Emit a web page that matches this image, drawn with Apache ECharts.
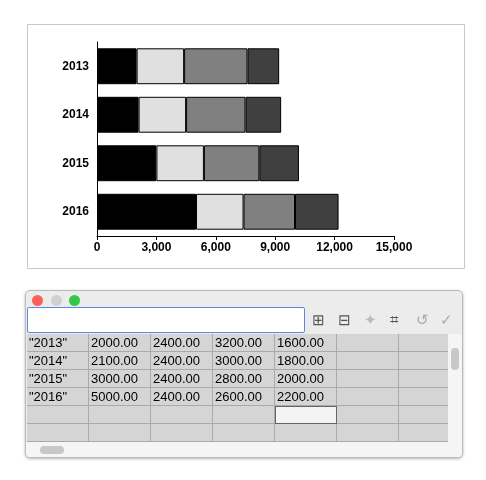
<!DOCTYPE html>
<html><head><meta charset="utf-8">
<script src="https://cdn.jsdelivr.net/npm/echarts@6/dist/echarts.min.js"></script>
<style>
body{margin:0;width:486px;height:480px;background:#fff;font-family:"Liberation Sans",Arial,sans-serif;position:relative;overflow:hidden}
#c{position:absolute;left:0;top:0;width:486px;height:480px}
#win{position:absolute;left:25px;top:290px;width:436px;height:166px;border:1px solid #bbb;border-radius:5px;background:#ececec;overflow:hidden;box-shadow:0 1px 3px rgba(0,0,0,.3)}
.dot{position:absolute;top:4px;width:11px;height:11px;border-radius:50%}
#inp{position:absolute;left:1px;top:16px;width:276px;height:24px;border:1px solid #5b8bd6;background:#fff;border-radius:2px}
.ic{position:absolute;top:20px;font-size:15px;color:#555}
.cell{position:absolute;height:17px;border-right:1px solid #aaa;border-bottom:1px solid #aaa;background:#d5d5d5;font-size:13px;line-height:17px;padding-left:2px;box-sizing:border-box;color:#000}
</style></head><body>
<div id="c"></div>
<div id="win">
 <div class="dot" style="left:6px;background:#fc605c"></div>
 <div class="dot" style="left:25px;background:#d0d0d0"></div>
 <div class="dot" style="left:43px;background:#34c84a"></div>
 <div id="inp"></div>
 <div class="ic" style="left:286px">&#x229E;</div>
 <div class="ic" style="left:312px">&#x229F;</div>
 <div class="ic" style="left:338px;color:#bbb">&#x2726;</div>
 <div class="ic" style="left:364px">&#x2317;</div>
 <div class="ic" style="left:390px;color:#aaa">&#x21BA;</div>
 <div class="ic" style="left:414px;color:#aaa">&#x2713;</div>
 <div id="tbl"></div>
 <div style="position:absolute;left:422px;top:43px;width:14px;height:108px;background:#f5f5f5"><div style="position:absolute;left:3px;top:14px;width:8px;height:22px;border-radius:4px;background:#c8c8c8"></div></div>
 <div style="position:absolute;left:0;top:151px;width:436px;height:15px;background:#f5f5f5"><div style="position:absolute;left:14px;top:4px;width:24px;height:8px;border-radius:4px;background:#c8c8c8"></div></div>
</div>
<script>
const categories=["2013","2014","2015","2016"];
const s1=[2000,2100,3000,5000];
const s2=[2400,2400,2400,2400];
const s3=[3200,3000,2800,2600];
const s4=[1600,1800,2000,2200];
const xTicks=[0,3000,6000,9000,12000,15000];
const colors=["#000000","#e0e0e0","#808080","#404040"];
// table
const tbl=document.getElementById('tbl');
const cols=[0,62,124,186,248,310,372];const widths=[62,62,62,62,62,62,50];
const rows=[];for(let i=0;i<4;i++)rows.push(['"'+categories[i]+'"',s1[i].toFixed(2),s2[i].toFixed(2),s3[i].toFixed(2),s4[i].toFixed(2),'','']);
rows.push(['','','','','','','']);rows.push(['','','','','','','']);
rows.forEach((r,ri)=>r.forEach((t,ci)=>{const d=document.createElement('div');d.className='cell';
d.style.left=(cols[ci]+1)+'px';d.style.top=(43+ri*18)+'px';d.style.width=widths[ci]+'px';d.style.height='18px';
if(ri===4&&ci===4){d.style.background='#f4f4f4';d.style.border='1px solid #666';}
d.textContent=t;tbl.appendChild(d);}));
const chart=echarts.init(document.getElementById('c'));
const mk=(n,d,i)=>({name:n,type:'bar',stack:'a',data:d,barWidth:'74%',itemStyle:{color:colors[i],borderColor:'#000',borderWidth:1}});
chart.setOption({
 animation:false,
 graphic:[{type:'rect',left:25,top:22,shape:{width:437,height:244},style:{fill:'none',stroke:'#c8c8c8',lineWidth:1},z:-1}],
 grid:{left:97,right:92,top:42,height:194},
 xAxis:{type:'value',min:0,max:15000,interval:3000,splitLine:{show:false},
  axisLine:{show:true,lineStyle:{color:'#000'}},axisTick:{show:true,length:4,lineStyle:{color:'#000'}},
  axisLabel:{color:'#000',fontSize:12,fontWeight:'bold',margin:6}},
 yAxis:{type:'category',data:categories,inverse:true,axisLine:{lineStyle:{color:'#000'}},axisTick:{show:false},
  axisLabel:{color:'#000',fontSize:12,fontWeight:'bold',margin:8}},
 series:[mk('a',s1,0),mk('b',s2,1),mk('c',s3,2),mk('d',s4,3)]
});
</script></body></html>
